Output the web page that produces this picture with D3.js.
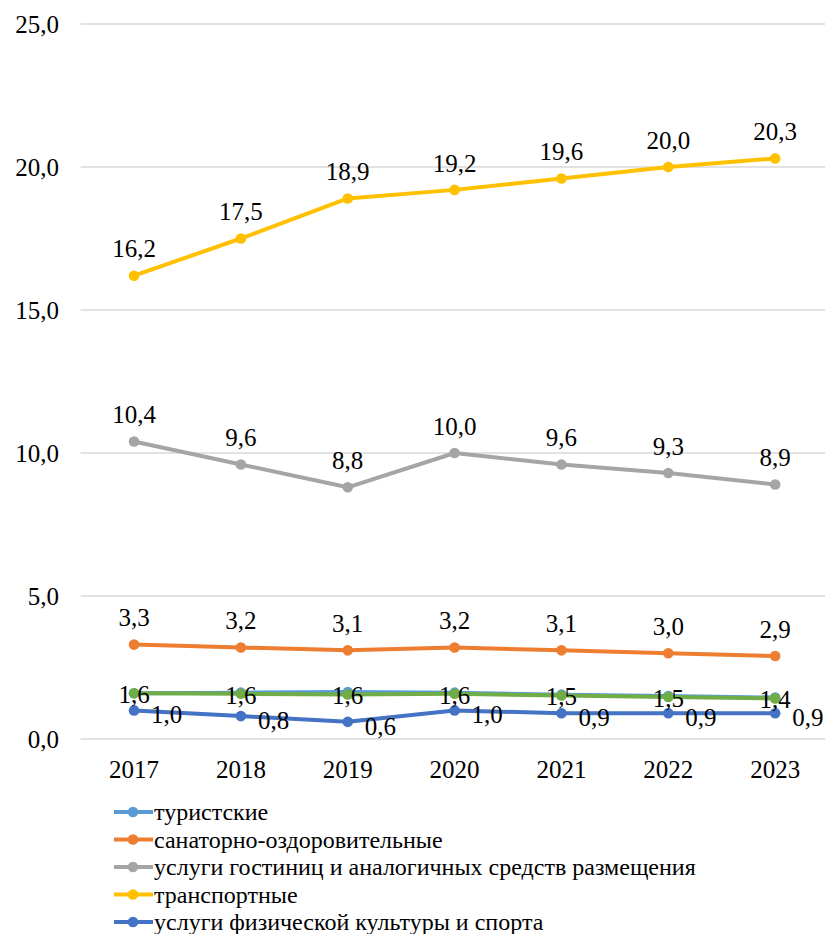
<!DOCTYPE html>
<html><head><meta charset="utf-8">
<script src="https://cdn.jsdelivr.net/npm/d3@7"></script>
</head><body style="margin:0;background:#fff">
<script>
const years = ["2017","2018","2019","2020","2021","2022","2023"];
const yTicks = [0,5,10,15,20,25];
const seriesNames = ["туристские","санаторно-оздоровительные","услуги гостиниц и аналогичных средств размещения","транспортные","услуги физической культуры и спорта","прочие"];
const seriesColors = ["#5B9BD5","#ED7D31","#A5A5A5","#FFC000","#4472C4","#70AD47"];
const tourist = [1.6,1.62,1.64,1.62,1.55,1.5,1.45];
const sanatorium = [3.3,3.2,3.1,3.2,3.1,3.0,2.9];
const hotels = [10.4,9.6,8.8,10.0,9.6,9.3,8.9];
const transport = [16.2,17.5,18.9,19.2,19.6,20.0,20.3];
const sport = [1.0,0.8,0.6,1.0,0.9,0.9,0.9];
const other = [1.6,1.58,1.56,1.58,1.52,1.47,1.42];
const labelPos = ["none","above","above","above","right","center"];
const legendCount = 5;

const W=825,H=934;
const svg=d3.select("body").append("svg").attr("width",W).attr("height",H)
  .style("display","block");
const x=d3.scaleBand().domain(years).range([80.6,828.6]);
const y=d3.scaleLinear().domain([0,25]).range([739,24]);
const fmt=v=>(Math.round(v*10)/10).toFixed(1).replace(".",",");

svg.append("g").selectAll("line").data(yTicks).join("line")
  .attr("x1",80.6).attr("x2",828.6).attr("y1",d=>y(d)).attr("y2",d=>y(d))
  .attr("stroke","#D9D9D9").attr("stroke-width",1.5);
svg.append("g").selectAll("text").data(yTicks).join("text")
  .attr("font-family","Times New Roman")
  .attr("x",59).attr("y",d=>y(d)).attr("dy","0.35em").attr("text-anchor","end")
  .attr("font-size",25).text(d=>fmt(d));
svg.append("g").selectAll("text").data(years).join("text")
  .attr("font-family","Times New Roman")
  .attr("x",d=>x(d)+x.bandwidth()/2).attr("y",769).attr("dy","0.35em").attr("text-anchor","middle")
  .attr("font-size",25).text(d=>d);

const data=[tourist,sanatorium,hotels,transport,sport,other];
const cx=d=>x(d)+x.bandwidth()/2;
const line=d3.line().x((d,i)=>cx(years[i])).y(d=>y(d));
const drawOrder=[4,0,1,2,3,5];
drawOrder.forEach(si=>{
  const vals=data[si];
  const g=svg.append("g");
  g.append("path").datum(vals).attr("d",line).attr("fill","none")
    .attr("stroke",seriesColors[si]).attr("stroke-width",4).attr("stroke-linejoin","round");
  g.selectAll("circle").data(vals).join("circle")
    .attr("cx",(d,i)=>cx(years[i])).attr("cy",d=>y(d)).attr("r",5.3).attr("fill",seriesColors[si]);
});
[0,1,2,3,4,5].forEach(si=>{
  const pos=labelPos[si]; if(pos==="none")return;
  const vals=data[si];
  svg.append("g").selectAll("text").data(vals).join("text")
    .attr("font-family","Times New Roman")
    .attr("x",(d,i)=>cx(years[i])+(pos==="right"?17:0))
    .attr("y",d=>y(d)+(pos==="above"?-27:(pos==="right"?4:1)))
    .attr("dy","0.35em")
    .attr("text-anchor",pos==="right"?"start":"middle")
    .attr("font-size",25).text(d=>fmt(d));
});
const lg=svg.append("g");
for(let i=0;i<legendCount;i++){
  const yy=812+i*27.5;
  lg.append("line").attr("x1",114).attr("x2",153).attr("y1",yy).attr("y2",yy)
    .attr("stroke",seriesColors[i]).attr("stroke-width",4);
  lg.append("circle").attr("cx",133).attr("cy",yy).attr("r",5.3).attr("fill",seriesColors[i]);
  lg.append("text").attr("font-family","Times New Roman")
    .attr("x",154).attr("y",yy).attr("dy","0.35em")
    .attr("font-size",24).text(seriesNames[i]);
}
</script>
</body></html>
